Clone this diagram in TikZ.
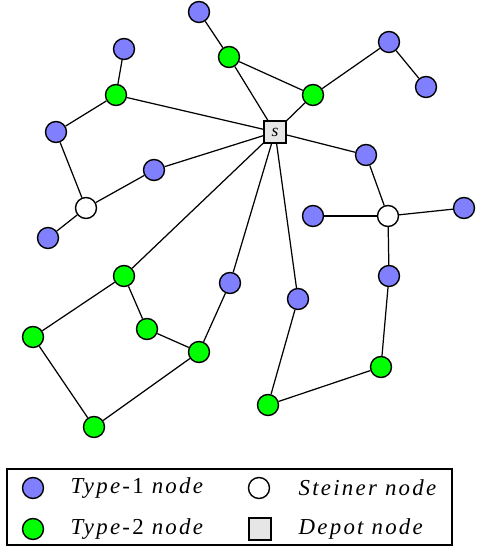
\documentclass[tikz,border=0pt]{standalone}
\usepackage{fontspec}
\setmainfont{Liberation Serif}

\definecolor{typeone}{RGB}{128,128,255}
\definecolor{typetwo}{RGB}{0,255,0}
\definecolor{depotgray}{RGB}{230,230,230}

\tikzset{
	typeA/.style={circle,draw,fill=typeone,minimum size=0.42cm,inner sep=0pt,line width=0.8pt},
	typeB/.style={circle,draw,fill=typetwo,minimum size=0.42cm,inner sep=0pt,line width=0.8pt},
	steiner/.style={circle,draw,fill=white,minimum size=0.42cm,inner sep=0pt,line width=0.8pt},
	depot/.style={rectangle,draw,fill=depotgray,minimum size=0.44cm,inner sep=0pt,line width=0.8pt,font=\fontsize{10}{11}\selectfont\itshape},
	legendtext/.style={anchor=west,inner sep=0pt,font=\fontsize{13}{15}\selectfont\addfontfeature{LetterSpace=10}}
}

\begin{document}
\begin{tikzpicture}[x=0.02cm,y=-0.02cm,line width=0.7pt]
	\useasboundingbox (0,0) rectangle (477,546);

	\node[depot] (s) at (275,132) {s};

	\foreach \n/\x/\y in {a1/199/12, a2/124/49, a3/389/42, a4/426/87, a5/56/132, a6/154/170,
		a7/366/155, a8/48/238, a9/313/216, a10/464/208, a11/389/276, a12/230/283, a13/298/299}
		\node[typeA] (\n) at (\x,\y) {};

	\foreach \n/\x/\y in {b1/229/57, b2/116/95, b3/313/95, b4/124/276, b5/33/337,
		b6/147/329, b7/199/352, b8/381/367, b9/268/405, b10/94/427}
		\node[typeB] (\n) at (\x,\y) {};

	\node[steiner] (w1) at (86,208) {};
	\node[steiner] (w2) at (388,216) {};

	\foreach \u/\v in {s/b1, b1/a1, b1/b3, s/b3, b3/a3, a3/a4,
		s/b2, b2/a2, b2/a5, a5/w1, w1/a6, a6/s, w1/a8,
		s/a7, a7/w2, w2/a9, w2/a10, w2/a11, a11/b8, b8/b9, b9/a13, a13/s,
		s/b4, b4/b5, b5/b10, b10/b7, b7/b6, b6/b4, b7/a12, a12/s}
		\draw (\u) -- (\v);

	% legend
	\node[draw,line width=0.7pt,minimum width=445*0.02cm,minimum height=76*0.02cm,inner sep=0pt] (legend) at (229.5,507) {};
	\node[typeA] (keyA) at (33,488) {};
	\node[typeB] (keyB) at (33,529) {};
	\node[steiner] (keyW) at (259,488) {};
	\node[depot] (keyS) at (260,529) {};
	\node[legendtext] (txtA) at (70,488) {\textit{Type}-1 \textit{node}};
	\node[legendtext] (txtB) at (70,529) {\textit{Type}-2 \textit{node}};
	\node[legendtext] (txtW) at (298,488) {\textit{Steiner node}};
	\node[legendtext] (txtS) at (298,529) {\textit{Depot node}};
\end{tikzpicture}
\end{document}
